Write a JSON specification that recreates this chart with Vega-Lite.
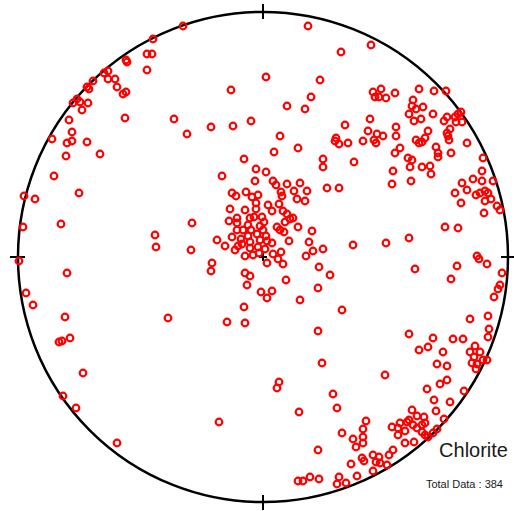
{
  "$schema": "https://vega.github.io/schema/vega-lite/v6.json",
  "width": 514,
  "height": 511,
  "padding": 0,
  "autosize": {"type": "none"},
  "background": "white",
  "config": {"view": {"stroke": null}},
  "datasets": {
    "pts": [
      {"x":-137,"y":197},{"x":-136,"y":195},{"x":-159,"y":184},{"x":-155,"y":186},{"x":-155,"y":178},{"x":-148,"y":178},{"x":-146,"y":170},{"x":-140,"y":163},{"x":-137,"y":165},{"x":-170,"y":176},
      {"x":-176,"y":170},{"x":-174,"y":168},{"x":-190,"y":154},{"x":-186,"y":158},{"x":-183,"y":155},{"x":-175,"y":154},{"x":-181,"y":147},{"x":-194,"y":137},{"x":-138,"y":139},{"x":-191,"y":125},
      {"x":-211,"y":118},{"x":-196,"y":114},{"x":-191,"y":116},{"x":-176,"y":115},{"x":-197,"y":101},{"x":-163,"y":103},
      {"x":-80,"y":231},{"x":-110,"y":218},{"x":-116,"y":203},{"x":-111,"y":203},{"x":-116,"y":187},{"x":-32,"y":167},{"x":-89,"y":138},{"x":-76,"y":123},{"x":-52,"y":130},{"x":-30,"y":131},{"x":-12,"y":136},{"x":-19,"y":98},{"x":-7,"y":88},
      {"x":45,"y":231},{"x":108,"y":212},{"x":78,"y":205},{"x":3,"y":180},{"x":57,"y":177},{"x":110,"y":165},{"x":118,"y":168},{"x":112,"y":160},{"x":116,"y":160},{"x":123,"y":159},
      {"x":48,"y":160},{"x":24,"y":151},{"x":42,"y":148},{"x":107,"y":138},{"x":82,"y":132},{"x":105,"y":126},{"x":114,"y":123},{"x":120,"y":121},{"x":17,"y":121},{"x":73,"y":119},
      {"x":72,"y":116},{"x":76,"y":113},{"x":85,"y":114},{"x":100,"y":116},{"x":111,"y":117},{"x":113,"y":114},{"x":35,"y":109},{"x":11,"y":105},{"x":60,"y":98},{"x":60,"y":90},{"x":91,"y":95},{"x":3,"y":85},
      {"x":132,"y":164},{"x":156,"y":168},{"x":171,"y":166},{"x":183,"y":166},{"x":150,"y":157},{"x":149,"y":151},{"x":153,"y":148},{"x":160,"y":150},{"x":146,"y":143},{"x":151,"y":136},
      {"x":158,"y":138},{"x":170,"y":143},{"x":181,"y":136},{"x":184,"y":140},{"x":192,"y":140},{"x":195,"y":143},{"x":198,"y":145},{"x":199,"y":135},{"x":193,"y":135},{"x":187,"y":128},
      {"x":184,"y":124},{"x":185,"y":121},{"x":186,"y":117},{"x":133,"y":130},{"x":133,"y":121},{"x":165,"y":126},{"x":153,"y":117},{"x":156,"y":114},{"x":159,"y":115},{"x":162,"y":119},
      {"x":137,"y":109},{"x":132,"y":104},{"x":173,"y":110},{"x":175,"y":104},{"x":175,"y":100},{"x":188,"y":104},{"x":204,"y":114},{"x":145,"y":99},{"x":149,"y":97},{"x":147,"y":90},
      {"x":159,"y":90},{"x":167,"y":91},{"x":168,"y":83},{"x":130,"y":86},{"x":220,"y":99},{"x":219,"y":86},
      {"x":-209,"y":81},{"x":-184,"y":64},{"x":-239,"y":61},{"x":-228,"y":58},{"x":-240,"y":30},{"x":-202,"y":33},{"x":-244,"y":-4},{"x":-196,"y":-16},{"x":-237,"y":-36},{"x":-230,"y":-48},
      {"x":-198,"y":-60},{"x":-204,"y":-85},{"x":-201,"y":-84},{"x":-193,"y":-81},{"x":-180,"y":-116},{"x":-200,"y":-139},{"x":-187,"y":-151},{"x":-146,"y":-186},{"x":-44,"y":-165},
      {"x":-41,"y":81},{"x":-8,"y":76},{"x":-31,"y":64},{"x":-27,"y":61},{"x":-17,"y":65},{"x":-11,"y":60},{"x":-33,"y":48},{"x":-71,"y":34},{"x":-34,"y":36},{"x":-26,"y":39},
      {"x":-26,"y":34},{"x":-108,"y":22},{"x":-107,"y":10},{"x":-72,"y":7},{"x":-46,"y":17},{"x":-38,"y":11},{"x":-31,"y":20},{"x":-26,"y":27},{"x":-22,"y":18},{"x":-18,"y":1},
      {"x":-51,"y":-6},{"x":-52,"y":-14},{"x":-18,"y":-16},{"x":-13,"y":-19},{"x":-16,"y":-28},{"x":-19,"y":-50},{"x":-95,"y":-61},{"x":-36,"y":-65},{"x":-18,"y":-66},
      {"x":-13,"y":39},{"x":-9,"y":40},{"x":-15,"y":32},{"x":-12,"y":27},{"x":-15,"y":21},{"x":-13,"y":15},{"x":-13,"y":9},{"x":-10,"y":2},{"x":-4,"y":4},{"x":-5,"y":10},
      {"x":-7,"y":54},{"x":-7,"y":48},{"x":-28,"y":7},{"x":-25,"y":11},{"x":-21,"y":13},{"x":-1,"y":40},{"x":-3,"y":31},{"x":-6,"y":23},{"x":0,"y":27},{"x":1,"y":35},
      {"x":3,"y":21},{"x":-3,"y":17},{"x":2,"y":8},{"x":-18,"y":47},{"x":-5,"y":62},{"x":-20,"y":27},
      {"x":10,"y":76},{"x":13,"y":72},{"x":24,"y":73},{"x":37,"y":74},{"x":31,"y":66},{"x":44,"y":66},{"x":64,"y":69},{"x":76,"y":69},{"x":18,"y":65},{"x":19,"y":61},
      {"x":34,"y":58},{"x":42,"y":56},{"x":16,"y":53},{"x":5,"y":52},{"x":9,"y":46},{"x":20,"y":46},{"x":24,"y":43},{"x":30,"y":39},{"x":27,"y":38},{"x":22,"y":35},
      {"x":14,"y":30},{"x":17,"y":27},{"x":21,"y":25},{"x":35,"y":30},{"x":49,"y":26},{"x":26,"y":16},{"x":46,"y":15},{"x":4,"y":16},{"x":9,"y":14},{"x":50,"y":6},
      {"x":60,"y":8},{"x":18,"y":5},{"x":10,"y":3},{"x":43,"y":1},{"x":90,"y":12},{"x":123,"y":14},{"x":15,"y":-2},{"x":20,"y":-7},{"x":4,"y":-6},{"x":56,"y":-10},
      {"x":67,"y":-18},{"x":23,"y":-23},{"x":55,"y":-31},{"x":9,"y":-34},{"x":-2,"y":-35},{"x":4,"y":-41},{"x":37,"y":-43},{"x":79,"y":-53},{"x":55,"y":-74},
      {"x":129,"y":73},{"x":148,"y":76},{"x":199,"y":74},{"x":210,"y":78},{"x":219,"y":76},{"x":230,"y":76},{"x":204,"y":67},{"x":192,"y":64},{"x":213,"y":62},{"x":217,"y":64},
      {"x":222,"y":66},{"x":225,"y":64},{"x":222,"y":56},{"x":228,"y":58},{"x":198,"y":54},{"x":234,"y":51},{"x":237,"y":47},{"x":221,"y":44},{"x":182,"y":30},{"x":195,"y":29},
      {"x":146,"y":19},{"x":214,"y":1},{"x":216,"y":-2},{"x":224,"y":-7},{"x":194,"y":-9},{"x":152,"y":-12},{"x":239,"y":-16},{"x":188,"y":-22},{"x":237,"y":-28},{"x":235,"y":-32},
      {"x":231,"y":-40},{"x":207,"y":-62},{"x":225,"y":-59},{"x":226,"y":-72},{"x":225,"y":-80},{"x":146,"y":-77},{"x":170,"y":-81},{"x":190,"y":-82},{"x":200,"y":-82},
      {"x":212,"y":-89},{"x":207,"y":-95},{"x":217,"y":-95},{"x":211,"y":-100},{"x":209,"y":-106},{"x":214,"y":-107},{"x":220,"y":-103},{"x":224,"y":-103},{"x":213,"y":-112},{"x":156,"y":-93},
      {"x":165,"y":-90},{"x":180,"y":-95},{"x":174,"y":-107},{"x":184,"y":-109},{"x":184,"y":-123},{"x":177,"y":-127},{"x":164,"y":-132},{"x":201,"y":-134},{"x":171,"y":-143},{"x":187,"y":-145},
      {"x":149,"y":-153},{"x":173,"y":-154},{"x":154,"y":-159},{"x":161,"y":-160},{"x":181,"y":-162},{"x":137,"y":-166},{"x":144,"y":-165},{"x":146,"y":-163},{"x":129,"y":-170},{"x":135,"y":-171},
      {"x":142,"y":-174},{"x":150,"y":-168},{"x":154,"y":-171},{"x":159,"y":-168},{"x":162,"y":-166},{"x":135,"y":-178},{"x":159,"y":-175},{"x":162,"y":-178},{"x":165,"y":-180},{"x":170,"y":-176},
      {"x":174,"y":-172},{"x":142,"y":-186},{"x":151,"y":-185},{"x":122,"y":-118},{"x":130,"y":-193},{"x":126,"y":-198},{"x":124,"y":-208},
      {"x":59,"y":-106},{"x":16,"y":-125},{"x":14,"y":-131},{"x":70,"y":-137},{"x":74,"y":-151},{"x":36,"y":-155},{"x":103,"y":-164},{"x":100,"y":-172},{"x":79,"y":-176},{"x":100,"y":-180},
      {"x":90,"y":-182},{"x":100,"y":-186},{"x":93,"y":-190},{"x":55,"y":-193},{"x":110,"y":-198},{"x":116,"y":-200},{"x":99,"y":-201},{"x":101,"y":-204},{"x":113,"y":-205},{"x":117,"y":-206},
      {"x":88,"y":-207},{"x":110,"y":-214},{"x":94,"y":-219},{"x":47,"y":-220},{"x":35,"y":-224},{"x":40,"y":-224},{"x":56,"y":-222},{"x":76,"y":-220},{"x":74,"y":-227},{"x":83,"y":-226}
    ],
    "frame": [{"x":0,"y":0}],
    "ticks": [
      {"x":0,"y":238,"x2":0,"y2":253},
      {"x":0,"y":-238,"x2":0,"y2":-253},
      {"x":-238,"y":0,"x2":-253,"y2":0},
      {"x":238,"y":0,"x2":253,"y2":0},
      {"x":-4,"y":0,"x2":4,"y2":0},
      {"x":0,"y":-4,"x2":0,"y2":4}
    ],
    "labels": [
      {"x":245,"y":-200,"t":"Chlorite","s":20},
      {"x":240,"y":-231,"t":"Total Data : 384","s":11}
    ]
  },
  "encoding": {
    "x": {"field": "x", "type": "quantitative", "scale": {"domain": [-263, 251], "nice": false, "zero": false}, "axis": null},
    "y": {"field": "y", "type": "quantitative", "scale": {"domain": [-254, 257], "nice": false, "zero": false}, "axis": null}
  },
  "layer": [
    {
      "data": {"name": "frame"},
      "mark": {"type": "point", "shape": "circle", "filled": false, "size": 240100, "stroke": "black", "strokeWidth": 2.5, "opacity": 1}
    },
    {
      "data": {"name": "ticks"},
      "mark": {"type": "rule", "stroke": "black", "strokeWidth": 2},
      "encoding": {"x2": {"field": "x2"}, "y2": {"field": "y2"}}
    },
    {
      "data": {"name": "pts"},
      "mark": {"type": "point", "shape": "circle", "filled": false, "size": 44, "stroke": "#ff0000", "strokeWidth": 2.2, "opacity": 1}
    },
    {
      "data": {"name": "labels"},
      "mark": {"type": "text", "align": "right", "baseline": "alphabetic", "font": "Liberation Sans", "color": "#1a1a1a"},
      "encoding": {"text": {"field": "t"}, "size": {"field": "s", "type": "quantitative", "scale": null}}
    }
  ]
}
